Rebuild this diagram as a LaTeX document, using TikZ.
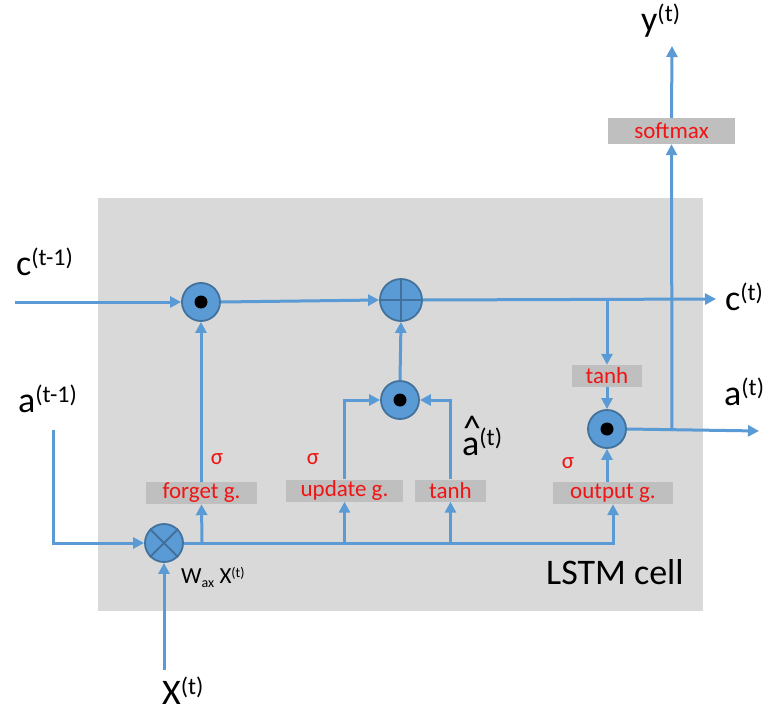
\documentclass[tikz,border=0pt]{standalone}
\usepackage{fontspec}
\setmainfont{Carlito}
\usetikzlibrary{arrows.meta,calc}
\definecolor{lblue}{RGB}{91,155,213}
\definecolor{dblue}{RGB}{65,113,156}
\definecolor{cellgray}{RGB}{217,217,217}
\definecolor{boxgray}{RGB}{191,191,191}
\definecolor{gred}{RGB}{240,20,20}
\newcommand\bigsup[1]{\raisebox{10pt}{\fontsize{24}{24}\selectfont #1}}
\newcommand\smlsup[1]{\raisebox{6pt}{\fontsize{14}{14}\selectfont #1}}
\newcommand\smlsub[1]{\raisebox{-4pt}{\fontsize{14}{14}\selectfont #1}}
\tikzset{
  ln/.style={draw=lblue, line width=3pt},
  arr/.style={ln, -{Triangle[length=11pt,width=11pt]}},
  op/.style={circle, draw=dblue, line width=1.8pt, fill=lblue, minimum size=38pt, inner sep=0pt},
  gatebox/.style={fill=boxgray, text=gred, minimum height=22pt, inner sep=0pt,
     font=\fontsize{23}{23}\selectfont},
  siglab/.style={text=gred, font=\fontsize{23}{23}\selectfont, inner sep=0pt},
  biglab/.style={font=\fontsize{36}{36}\selectfont, inner sep=0pt, anchor=base west},
  dotmark/.style={circle, fill=black, minimum size=13pt, inner sep=0pt},
}
\begin{document}
\begin{tikzpicture}[x=1pt,y=-1pt]
\useasboundingbox (0,0) rectangle (772,715);
% cell background
\fill[cellgray] (98,198) rectangle (703,611);

% operator circles
\node[op] (fmul) at (201,302) {};
\node[dotmark] at (fmul) {};
\node[op, minimum size=42pt] (plus) at (401,300) {};
\draw[dblue, line width=1.8pt] (plus.north) -- (plus.south) (plus.west) -- (plus.east);
\node[op] (umul) at (400,400) {};
\node[dotmark] at (umul) {};
\node[op] (omul) at (607,429) {};
\node[dotmark] at (omul) {};
\node[op] (imul) at (164,543) {};
\draw[dblue, line width=1.8pt] (imul.north west) -- (imul.south east) (imul.north east) -- (imul.south west);

% gate boxes
\node[gatebox, minimum width=111pt] (forget) at (201.5,493) {forget g.};
\node[gatebox, minimum width=117pt] (update) at (344.5,490.5) {update g.};
\node[gatebox, minimum width=71pt] (tanhm) at (450.5,490.5) {tanh};
\node[gatebox, minimum width=120pt] (output) at (613,493) {output g.};
\node[gatebox, minimum width=70pt] (tanht) at (607,376) {tanh};
\node[gatebox, minimum width=127pt, minimum height=26pt] (softmax) at (671.5,131) {softmax};

% free ends
\coordinate (cin) at (15,302);
\coordinate (cout) at (716,299);
\coordinate (cbr) at (607,299);
\coordinate (aout) at (759,431);
\coordinate (ybr) at (672,431);
\coordinate (yout) at (672,46);
\coordinate (ain) at (53,430);
\coordinate (xin) at (164,670);
\coordinate (bl1) at (202,542);
\coordinate (bl2) at (344.5,542);
\coordinate (bl3) at (450.5,542);

% connectors
\draw[arr] (cin) -- (fmul.west);
\draw[arr] (fmul.east) -- (plus.west);
\draw[arr] (plus.east) -- (cout);
\draw[arr] (cbr) -- (tanht.north);
\draw[arr] (tanht.south) -- (omul.north);
\draw[arr] (omul.east) -- (aout);
\draw[arr] (ybr) -- (softmax.south);
\draw[arr] (softmax.north) -- (yout);
\draw[arr] (ain) |- (imul.west);
\draw[arr] (xin) -- (imul.south);
\draw[arr] (imul.east) -| (output.south);
\draw[arr] (bl1) -- (forget.south);
\draw[arr] (bl2) -- (update.south);
\draw[arr] (bl3) -- (tanhm.south);
\draw[arr] (forget.north -| fmul.south) -- (fmul.south);
\draw[arr] (update.north) |- (umul.west);
\draw[arr] (tanhm.north) |- (umul.east);
\draw[arr] (umul.north) -- (plus.south);
\draw[arr] (output.north -| omul.south) -- (omul.south);

% sigma labels
\node[siglab] (s1) at (217,459) {σ};
\node[siglab] (s2) at (313,459) {σ};
\node[siglab] (s3) at (568,463) {σ};

% big labels
\node[biglab] (lc1) at (16,275) {c\bigsup{(t-1)}};
\node[biglab] (la1) at (18,412) {a\bigsup{(t-1)}};
\node[biglab] (lct) at (725,310) {c\bigsup{(t)}};
\node[biglab] (lat) at (724,405) {a\bigsup{(t)}};
\node[biglab] (lyt) at (641,31) {y\bigsup{(t)}};
\node[biglab] (lxt) at (162,704) {X\bigsup{(t)}};
\node[biglab] (lahat) at (462,455) {\makebox[0pt][l]{\hspace{1pt}\raisebox{15pt}{\textasciicircum}}a\bigsup{(t)}};
\node[biglab] (lstm) at (546,584) {LSTM cell};
\node[font=\fontsize{23}{23}\selectfont, inner sep=0pt, anchor=base west] (wax) at (181,583) {W\smlsub{ax} X\smlsup{(t)}};
\end{tikzpicture}
\end{document}
